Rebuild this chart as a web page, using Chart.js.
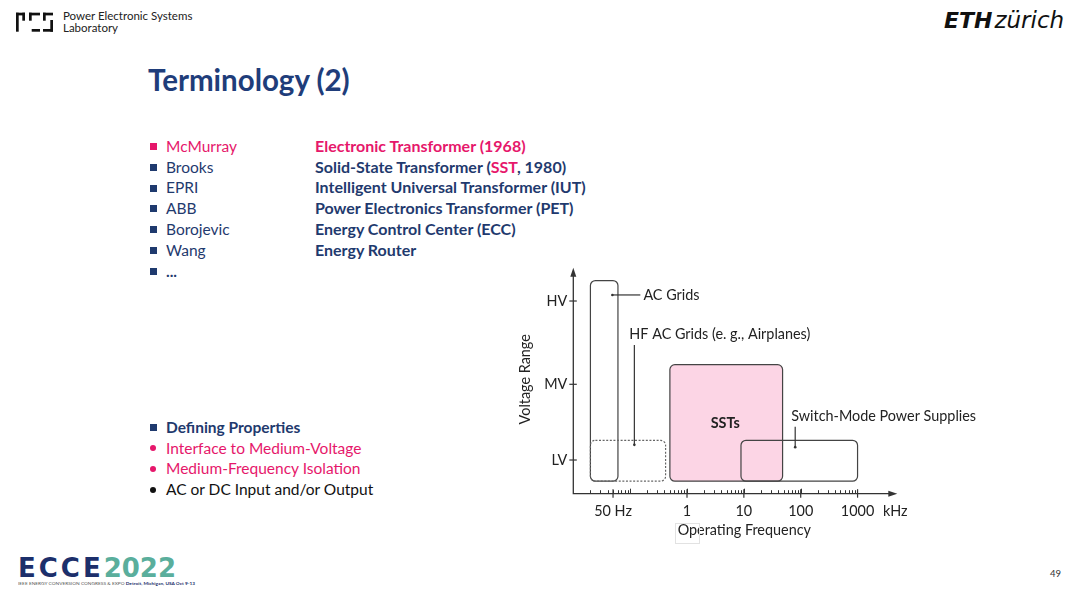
<!DOCTYPE html>
<html><head><meta charset="utf-8">
<script src="https://cdn.jsdelivr.net/npm/chart.js@4.4.0/dist/chart.umd.min.js"></script>
<style>
html,body{margin:0;padding:0;background:#fff;}
body{width:1080px;height:592px;position:relative;overflow:hidden;font-family:Lato,"Noto Sans",sans-serif;}
.t{position:absolute;white-space:nowrap;line-height:20px;}
#c{position:absolute;left:0;top:0;}
.sq{position:absolute;width:6.5px;height:6.5px;background:#1f3a6e;}
.dot{position:absolute;width:6px;height:6px;border-radius:50%;}
.blue{color:#1f3a6e;}
.pink{color:#e6176b;}
.b{font-weight:bold;}
.row{font-size:15.5px;}
.rb{font-size:16px;font-weight:bold;}
</style></head><body>

<!-- header -->
<svg style="position:absolute;left:0;top:0" width="60" height="40">
  <g fill="#111">
    <rect x="16" y="12.7" width="9" height="2.7"/>
    <rect x="16" y="12.7" width="2.7" height="19"/>
    <rect x="22.3" y="12.7" width="2.7" height="8"/>
    <rect x="29" y="12.7" width="11" height="2.7"/>
    <rect x="29" y="12.7" width="2.7" height="8"/>
    <rect x="31.7" y="29" width="8.3" height="2.7"/>
    <rect x="43" y="12.7" width="10" height="2.7"/>
    <rect x="43" y="12.7" width="2.7" height="8"/>
    <rect x="50.3" y="20" width="2.7" height="11.7"/>
    <rect x="43" y="29" width="10" height="2.7"/>
  </g>
</svg>
<div class="t" style="left:63px;top:10px;font-size:11.5px;line-height:12px;color:#222">Power Electronic Systems<br>Laboratory</div>
<div class="t" style="left:944px;top:7px;font-size:22px;line-height:26px;color:#111;font-family:'DejaVu Sans';"><span style="font-weight:bold;font-style:oblique;">ETH</span><span style="font-style:oblique;font-size:23px;margin-left:2px;">zürich</span></div>

<div class="t b" style="left:148px;top:61px;font-size:29.5px;line-height:38px;color:#1f3d7a;">Terminology (2)</div>

<!-- list -->
<div class="sq" style="left:150px;top:143px;background:#e6176b"></div>
<div class="t row pink" style="left:166px;top:136px;">McMurray</div>
<div class="t rb pink" style="left:315px;top:136px;">Electronic Transformer (1968)</div>

<div class="sq" style="left:150px;top:164px;"></div>
<div class="t row blue" style="left:166px;top:157px;">Brooks</div>
<div class="t rb blue" style="left:315px;top:157px;">Solid-State Transformer (<span class="pink">SST</span>, 1980)</div>

<div class="sq" style="left:150px;top:185px;"></div>
<div class="t row blue" style="left:166px;top:177px;">EPRI</div>
<div class="t rb blue" style="left:315px;top:177px;">Intelligent Universal Transformer (IUT)</div>

<div class="sq" style="left:150px;top:205px;"></div>
<div class="t row blue" style="left:166px;top:198px;">ABB</div>
<div class="t rb blue" style="left:315px;top:198px;">Power Electronics Transformer (PET)</div>

<div class="sq" style="left:150px;top:226px;"></div>
<div class="t row blue" style="left:166px;top:219px;">Borojevic</div>
<div class="t rb blue" style="left:315px;top:219px;">Energy Control Center (ECC)</div>

<div class="sq" style="left:150px;top:247px;"></div>
<div class="t row blue" style="left:166px;top:240px;">Wang</div>
<div class="t rb blue" style="left:315px;top:240px;">Energy Router</div>

<div class="sq" style="left:150px;top:268px;"></div>
<div class="t row blue b" style="left:166px;top:261px;">...</div>

<!-- defining properties -->
<div class="sq" style="left:150px;top:424px;"></div>
<div class="t row blue b" style="left:166px;top:417px;">Defining Properties</div>
<div class="dot" style="left:150px;top:445px;background:#e6176b"></div>
<div class="t row pink" style="left:166px;top:438px;">Interface to Medium-Voltage</div>
<div class="dot" style="left:150px;top:466px;background:#e6176b"></div>
<div class="t row pink" style="left:166px;top:458px;">Medium-Frequency Isolation</div>
<div class="dot" style="left:150px;top:487px;background:#111"></div>
<div class="t row" style="left:166px;top:479px;color:#111">AC or DC Input and/or Output</div>

<!-- footer -->
<div class="t" style="left:18px;top:555px;font-size:26px;line-height:27px;font-family:'DejaVu Sans';font-weight:bold;color:#1c2f6b;"><span style="letter-spacing:3px;">ECCE</span><span style="color:#5aae9c;letter-spacing:0px;">2022</span></div>
<div class="t" style="left:18px;top:581px;font-size:8px;line-height:8px;color:#555;transform:scale(0.6,0.55);transform-origin:0 0;">IEEE ENERGY CONVERSION CONGRESS &amp; EXPO <b style="color:#1c2f6b">Detroit, Michigan, USA Oct 9-13</b></div>
<div class="t" style="left:1050px;top:567px;font-size:9.5px;line-height:14px;color:#333;">49</div>

<canvas id="c" width="1080" height="592"></canvas>

<script>
// ---- data ----
const boxLabels   = ['AC Grids', 'HF AC Grids (e. g., Airplanes)', 'SSTs', 'Switch-Mode Power Supplies'];
const freqLowKHz  = [0.02, 0.02, 0.5, 8.9];
const freqHighKHz = [0.061, 0.42, 48, 1000];
const voltLow     = [0.72, 0.72, 0.72, 0.72];
const voltHigh    = [3.37, 1.26, 2.26, 1.26];

const voltTickLabels = ['LV', 'MV', 'HV'];
const voltTickValues = [1, 2, 3.1];
const freqTickLabels = ['50 Hz', '1', '10', '100', '1000'];
const freqTickValues = [0.05, 1, 10, 100, 1000];
const freqUnit = 'kHz';
const xTitle = 'Operating Frequency';
const yTitle = 'Voltage Range';

// ---- styles (not data) ----
const boxStyles = [
  {fill: null, dash: []},
  {fill: null, dash: [2, 1.6], stroke: '#666'},
  {fill: '#fcd5e5', dash: []},
  {fill: null, dash: []}
];
// annotation anchors in data units
const notes = [
  {text: 'AC Grids', tx: 0.171, ty: 3.18, align: 'left', line: [[0.0487, 3.18], [0.151, 3.18]], dotAt: 0},
  {text: 'HF AC Grids (e. g., Airplanes)', tx: 0.0968, ty: 2.66, align: 'left', line: [[0.1186, 2.52], [0.1186, 1.20]], dotAt: 1},
  {text: 'SSTs', tx: 4.71, ty: 1.49, align: 'center', bold: true},
  {text: 'Switch-Mode Power Supplies', tx: 68.1, ty: 1.57, align: 'left', line: [[80, 1.44], [80, 1.17]], dotAt: 1}
];

const FONT = 'Lato, "Noto Sans", sans-serif';
const FS = '14.4px ';
const AX = '#333';

const diagram = {
  id: 'diagram',
  afterDraw(chart) {
    const ctx = chart.ctx, xs = chart.scales.x, ys = chart.scales.y, a = chart.chartArea;
    const X = v => xs.getPixelForValue(v), Y = v => ys.getPixelForValue(v);
    ctx.save();
    // box fills
    for (let i = 0; i < boxLabels.length; i++) {
      const st = boxStyles[i];
      if (!st.fill) continue;
      const x0 = X(freqLowKHz[i]), x1 = X(freqHighKHz[i]), y0 = Y(voltHigh[i]), y1 = Y(voltLow[i]);
      ctx.beginPath(); ctx.roundRect(x0, y0, x1 - x0, y1 - y0, 5);
      ctx.fillStyle = st.fill; ctx.fill();
    }
    // box borders
    for (let i = 0; i < boxLabels.length; i++) {
      const st = boxStyles[i];
      const x0 = X(freqLowKHz[i]), x1 = X(freqHighKHz[i]), y0 = Y(voltHigh[i]), y1 = Y(voltLow[i]);
      ctx.beginPath(); ctx.roundRect(x0, y0, x1 - x0, y1 - y0, 5);
      ctx.setLineDash(st.dash); ctx.lineWidth = 1.2; ctx.strokeStyle = st.stroke || '#444'; ctx.stroke();
    }
    ctx.setLineDash([]);
    // axes
    ctx.strokeStyle = AX; ctx.fillStyle = AX; ctx.lineWidth = 1.3;
    ctx.beginPath();
    ctx.moveTo(a.left, a.top + 6); ctx.lineTo(a.left, a.bottom); ctx.lineTo(a.right - 6, a.bottom);
    ctx.stroke();
    ctx.beginPath(); ctx.moveTo(a.right, a.bottom); ctx.lineTo(a.right - 9, a.bottom - 3); ctx.lineTo(a.right - 9, a.bottom + 3); ctx.closePath(); ctx.fill();
    ctx.beginPath(); ctx.moveTo(a.left, a.top); ctx.lineTo(a.left - 3, a.top + 9); ctx.lineTo(a.left + 3, a.top + 9); ctx.closePath(); ctx.fill();
    // x minor ticks (log decades)
    ctx.lineWidth = 1;
    for (let e = -2; e <= 2; e++) {
      for (let k = 1; k <= 9; k++) {
        const v = k * Math.pow(10, e);
        if (v <= xs.min * 1.0001) continue;
        const px = Math.round(X(v)) + 0.5;
        const h = (k === 1) ? 5 : 3.5;
        ctx.beginPath(); ctx.moveTo(px, a.bottom); ctx.lineTo(px, a.bottom - h); ctx.stroke();
      }
    }
    // x major ticks + labels
    ctx.lineWidth = 1.2;
    ctx.font = FS + FONT; ctx.fillStyle = '#222'; ctx.textAlign = 'center'; ctx.textBaseline = 'middle';
    freqTickValues.forEach((v, i) => {
      const px = X(v);
      ctx.beginPath(); ctx.moveTo(px, a.bottom - 4.5); ctx.lineTo(px, a.bottom + 4); ctx.stroke();
      ctx.fillText(freqTickLabels[i], px, a.bottom + 18);
    });
    ctx.fillText(freqUnit, a.right - 2, a.bottom + 18);
    // y ticks + labels
    ctx.textAlign = 'right';
    voltTickValues.forEach((v, i) => {
      const py = Y(v);
      ctx.beginPath(); ctx.moveTo(a.left - 4, py); ctx.lineTo(a.left + 3.5, py); ctx.stroke();
      ctx.fillText(voltTickLabels[i], a.left - 6, py);
    });
    // axis titles
    ctx.textAlign = 'center';
    ctx.fillText(xTitle, (a.left + a.right) / 2 + 9, a.bottom + 37);
    ctx.strokeStyle = '#e2e2e2'; ctx.lineWidth = 1;
    ctx.strokeRect(675.5, 523.5, 24, 20);
    ctx.save();
    ctx.translate(a.left - 48, Y(2) - 5);
    ctx.rotate(-Math.PI / 2);
    ctx.fillStyle = '#222';
    ctx.fillText(yTitle, 0, 0);
    ctx.restore();
    // annotations
    ctx.strokeStyle = AX; ctx.lineWidth = 1.2;
    notes.forEach(n => {
      if (n.line) {
        const p0 = n.line[0], p1 = n.line[1];
        ctx.beginPath(); ctx.moveTo(X(p0[0]), Y(p0[1])); ctx.lineTo(X(p1[0]), Y(p1[1])); ctx.stroke();
        const d = n.line[n.dotAt];
        ctx.beginPath(); ctx.arc(X(d[0]), Y(d[1]), 1.3, 0, Math.PI * 2); ctx.fillStyle = AX; ctx.fill();
      }
      ctx.fillStyle = '#222';
      ctx.font = (n.bold ? 'bold ' : '') + FS + FONT;
      ctx.textAlign = n.align; ctx.textBaseline = 'middle';
      ctx.fillText(n.text, X(n.tx), Y(n.ty));
    });
    ctx.restore();
  }
};

new Chart(document.getElementById('c'), {
  type: 'scatter',
  data: {datasets: [{data: [], pointRadius: 0}]},
  options: {
    responsive: false,
    animation: false,
    events: [],
    layout: {padding: {left: 573.3, right: 182.7, top: 267.7, bottom: 98.3}},
    plugins: {legend: {display: false}, tooltip: {enabled: false}},
    scales: {
      x: {type: 'logarithmic', min: 0.01, max: 5000, display: false},
      y: {type: 'linear', min: 0.555, max: 3.54, display: false}
    }
  },
  plugins: [diagram]
});
</script>
</body></html>
